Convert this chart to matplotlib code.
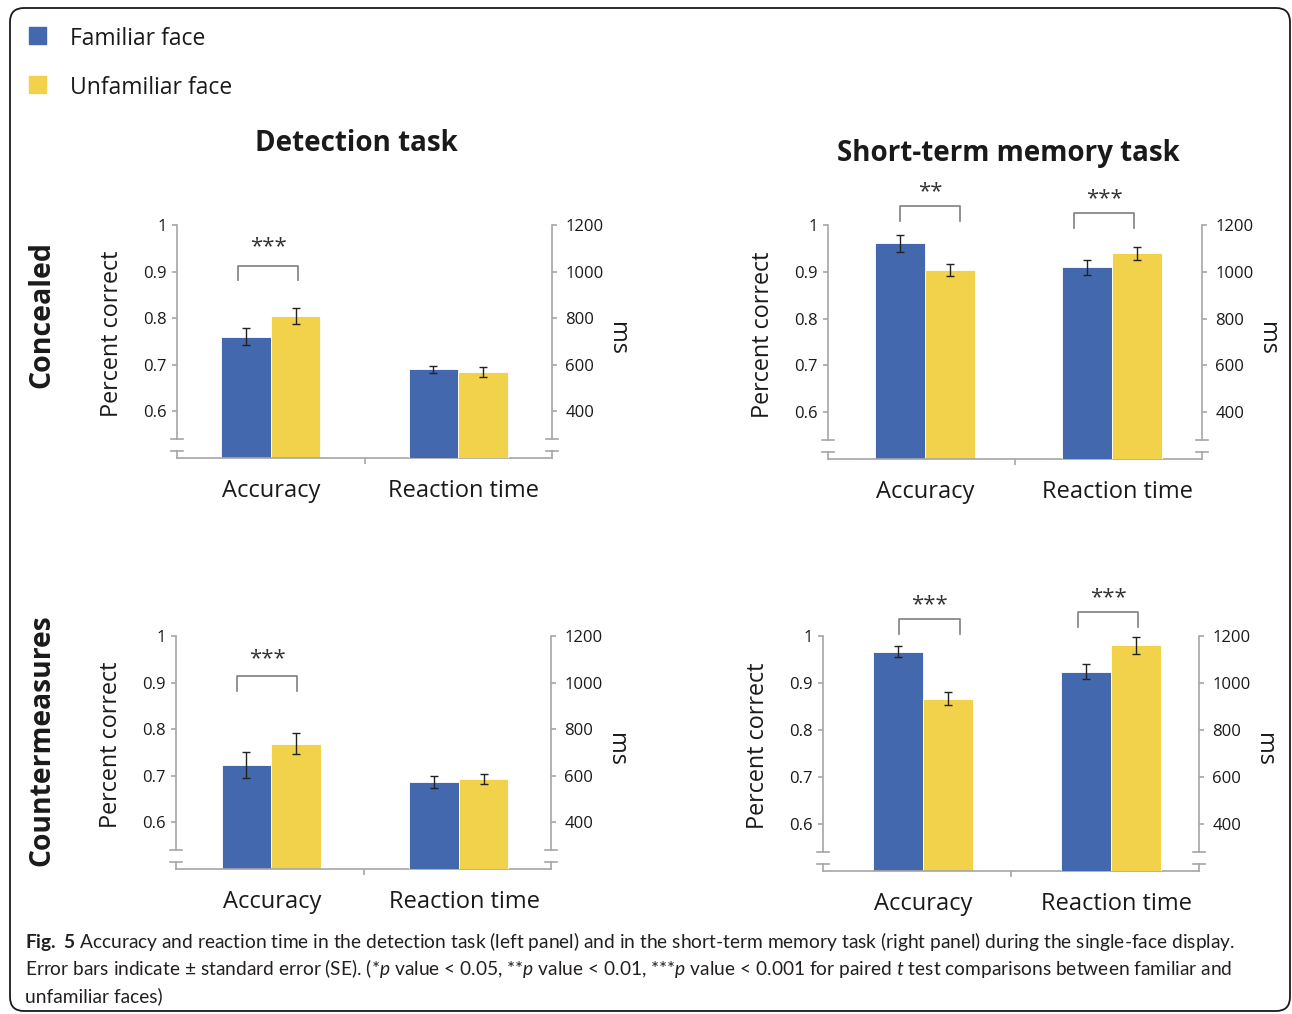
import matplotlib
matplotlib.use("Agg")
import matplotlib.pyplot as plt
from matplotlib.patches import FancyBboxPatch, Rectangle
from matplotlib.transforms import blended_transform_factory, IdentityTransform

plt.rcParams["font.family"] = ["Open Sans", "DejaVu Sans"]
plt.rcParams["mathtext.fontset"] = "custom"
plt.rcParams["mathtext.rm"] = "Lato"
plt.rcParams["mathtext.it"] = "Lato:italic"
plt.rcParams["mathtext.bf"] = "Lato:bold"

# 数据：[熟悉面孔, 不熟悉面孔]，正确率为比例，反应时单位 ms
categories = ["Accuracy", "Reaction time"]
groups = ["Familiar face", "Unfamiliar face"]
colors = ["#4368AD", "#F2D24B"]

det_conc_acc = [0.760, 0.805]
det_conc_acc_se = [0.018, 0.017]
det_conc_rt = [580, 570]
det_conc_rt_se = [16, 21]

mem_conc_acc = [0.961, 0.904]
mem_conc_acc_se = [0.018, 0.013]
mem_conc_rt = [1019, 1080]
mem_conc_rt_se = [33, 28]

det_cm_acc = [0.723, 0.769]
det_cm_acc_se = [0.028, 0.023]
det_cm_rt = [574, 587]
det_cm_rt_se = [26, 21]

mem_cm_acc = [0.967, 0.867]
mem_cm_acc_se = [0.012, 0.013]
mem_cm_rt = [1047, 1160]
mem_cm_rt_se = [32, 37]

# 显著性标记：(0=正确率轴 / 1=反应时轴, 星号, 括号左, 括号右, 括号脚, 括号顶, 星号高度)
det_conc_sig = [(0, "***", -0.175, 0.145, 0.883, 0.913, 0.953)]
mem_conc_sig = [(0, "**", -0.136, 0.188, 1.008, 1.040, 1.072),
                (1, "***", 0.796, 1.118, 1188, 1250, 1312)]
det_cm_sig = [(0, "***", -0.183, 0.137, 0.883, 0.914, 0.952)]
mem_cm_sig = [(0, "***", -0.127, 0.195, 1.004, 1.036, 1.066),
              (1, "***", 0.825, 1.146, 1240, 1304, 1364)]

W, H = 1292, 1014
fig = plt.figure(figsize=(W / 100, H / 100), dpi=100)

spine_c = "#A6A6A6"
text_c = "#1A1A1A"
bw = 0.265


def draw_panel(box, xlim, acc, acc_se, rt, rt_se, sig):
    l, r, t, b = box
    ax = fig.add_axes([l / W, 1 - b / H, (r - l) / W, (b - t) / H])
    ax2 = ax.twinx()
    ax.set_xlim(*xlim)
    ax.set_ylim(0.5, 1.0)
    ax2.set_ylim(200, 1200)

    offs = [-bw / 2, bw / 2]
    for i in range(2):
        ax.bar(offs[i], acc[i], bw, color=colors[i], edgecolor="white", linewidth=0.6)
        ax2.bar(1 + offs[i], rt[i], bw, color=colors[i], edgecolor="white", linewidth=0.6)
    ax.errorbar(offs, acc, yerr=acc_se, fmt="none", ecolor="#222222",
                elinewidth=1, capsize=3, capthick=1)
    ax2.errorbar([1 + o for o in offs], rt, yerr=rt_se, fmt="none", ecolor="#222222",
                 elinewidth=1, capsize=3, capthick=1)

    # 坐标轴样式
    for s in ["top", "right"]:
        ax.spines[s].set_visible(False)
    for s in ["top", "left", "bottom"]:
        ax2.spines[s].set_visible(False)
    ax.spines["left"].set_bounds(0.54, 1.0)
    ax2.spines["right"].set_bounds(280, 1200)
    for sp in [ax.spines["left"], ax.spines["bottom"], ax2.spines["right"]]:
        sp.set_color(spine_c)
        sp.set_linewidth(1.2)

    ax.set_yticks([0.6, 0.7, 0.8, 0.9, 1.0])
    ax.set_yticklabels(["0.6", "0.7", "0.8", "0.9", "1"])
    ax2.set_yticks([400, 600, 800, 1000, 1200])
    ax.tick_params(axis="y", length=3.5, width=1.2, color=spine_c, labelsize=12,
                   pad=4, labelcolor=text_c)
    ax2.tick_params(axis="y", length=3.5, width=1.2, color=spine_c, labelsize=12,
                    pad=6, labelcolor=text_c)

    mid = (xlim[0] + xlim[1]) / 2
    ax.set_xticks([mid])
    ax.set_xticklabels([""])
    ax.set_xticks([0.003, 1.03], minor=True)
    ax.set_xticklabels(categories, minor=True, fontsize=17, color=text_c)
    ax.tick_params(axis="x", which="major", length=4, width=1.2, color=spine_c)
    ax.tick_params(axis="x", which="minor", length=0, pad=15)

    # 断轴标记
    tr = blended_transform_factory(ax.transAxes, ax.transData)
    for xa in (0, 1):
        for yv in (0.54, 0.515):
            ax.plot([xa - 0.016, xa + 0.016], [yv, yv], transform=tr, color=spine_c,
                    lw=1.2, clip_on=False)
        ax.plot([xa, xa], [0.5, 0.515], transform=tr, color=spine_c, lw=1.2, clip_on=False)

    ax.set_ylabel("Percent correct", fontsize=16.8, color=text_c)
    ax.yaxis.set_label_coords(-0.173, 0.532)
    ax.yaxis.label.set_va("center")
    ax2.set_ylabel("ms", rotation=270, fontsize=17, color=text_c)
    ax2.yaxis.set_label_coords(1.173, 0.515)
    ax2.yaxis.label.set_va("center")

    for k, stars, x0, x1, leg, top, sy in sig:
        target = ax if k == 0 else ax2
        target.plot([x0, x0, x1, x1], [leg, top, top, leg], color="#7F7F7F", lw=1.2,
                    clip_on=False)
        target.annotate(stars, ((x0 + x1) / 2, sy), ha="center", va="center",
                        fontsize=16, color="#333333", annotation_clip=False)
    return ax


boxes = [(177, 552, 225, 458), (828, 1202, 225, 459),
         (176, 551, 636, 869), (823, 1199, 636, 871)]
xlims = [(-0.5, 1.5), (-0.519, 1.481), (-0.508, 1.492), (-0.532, 1.468)]
panels = [
    (det_conc_acc, det_conc_acc_se, det_conc_rt, det_conc_rt_se, det_conc_sig),
    (mem_conc_acc, mem_conc_acc_se, mem_conc_rt, mem_conc_rt_se, mem_conc_sig),
    (det_cm_acc, det_cm_acc_se, det_cm_rt, det_cm_rt_se, det_cm_sig),
    (mem_cm_acc, mem_cm_acc_se, mem_cm_rt, mem_cm_rt_se, mem_cm_sig),
]
axes = [draw_panel(bx, xl, *p) for bx, xl, p in zip(boxes, xlims, panels)]

axes[0].set_title("Detection task", x=0.477, y=1.318, pad=0, fontsize=20,
                  fontweight="bold", color=text_c)
axes[1].set_title("Short-term memory task", x=0.481, y=1.274, pad=0, fontsize=20,
                  fontweight="bold", color=text_c)

fig.text(42 / W, 1 - 315 / H, "Concealed", rotation=90, ha="center", va="center",
         fontsize=20.5, fontweight="bold", color=text_c)
fig.text(42 / W, 1 - 740 / H, "Countermeasures", rotation=90, ha="center", va="center",
         fontsize=20.3, fontweight="bold", color=text_c)

# 图例
for i, (g, yb) in enumerate(zip(groups, [45, 94])):
    fig.add_artist(Rectangle((29 / W, 1 - (yb - 1) / H), 17 / W, 17 / H,
                             transform=fig.transFigure, color=colors[i]))
    fig.text(70 / W, 1 - yb / H, g, va="baseline", fontsize=16.5, color=text_c)

# 图注
cap_font = ["Lato", "DejaVu Sans"]
caption = [
    r"$\mathbf{Fig.}$ $\mathbf{5}$ Accuracy and reaction time in the detection task (left panel) "
    r"and in the short-term memory task (right panel) during the single-face display.",
    r"Error bars indicate ± standard error (SE). (*$p$ value < 0.05, **$p$ value < 0.01, "
    r"***$p$ value < 0.001 for paired $t$ test comparisons between familiar and",
    "unfamiliar faces)",
]
for line, yb in zip(caption, [948, 975, 1002]):
    fig.text(25 / W, 1 - yb / H, line, va="baseline", fontsize=13.8, family=cap_font,
             color="#231F20")

fig.add_artist(FancyBboxPatch((10, 3), 1280, 1003, boxstyle="round,pad=0,rounding_size=14",
                              transform=IdentityTransform(), fill=False, ec="#1A1A1A", lw=1.3))

fig.savefig("out.png", dpi=100)
